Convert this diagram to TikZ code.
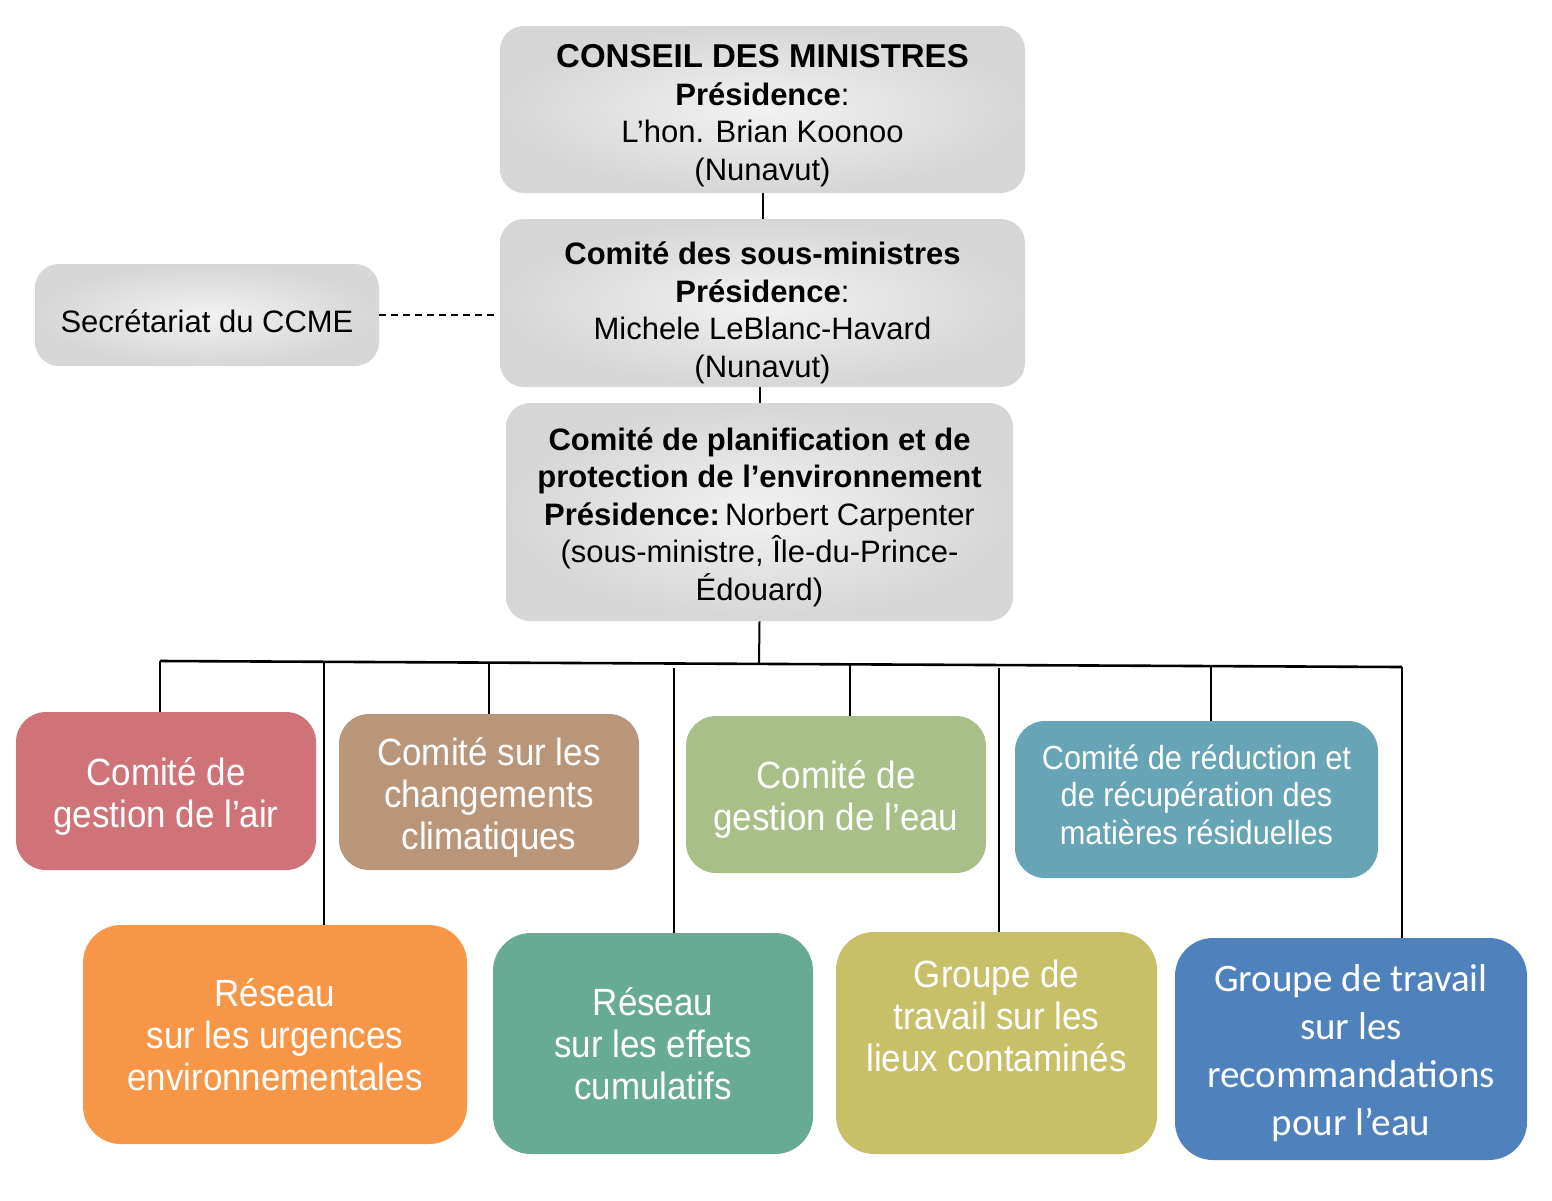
\documentclass[tikz,border=0pt]{standalone}
\usepackage{fontspec}
\setmainfont{Liberation Sans}
\newfontfamily\narrowf[FakeStretch=0.92]{Liberation Sans}
\newfontfamily\calib{Carlito}
\definecolor{cAir}{HTML}{CF7378}
\definecolor{cChg}{HTML}{B9967A}
\definecolor{cEau}{HTML}{A8BF87}
\definecolor{cMat}{HTML}{66A4B6}
\definecolor{cUrg}{HTML}{F79646}
\definecolor{cEff}{HTML}{67AB95}
\definecolor{cLieux}{HTML}{C7C068}
\definecolor{cRec}{HTML}{4F81BD}
\definecolor{gIn}{HTML}{F2F2F2}
\definecolor{gOut}{HTML}{D6D6D6}
\tikzset{
  graybox/.style={rounded corners=12pt, shade, inner color=gIn, outer color=gOut, inner sep=0pt},
  graytxt/.style={inner sep=0pt, align=center, text=black,
    font=\fontsize{15.5pt}{18.75pt}\selectfont},
  colbox/.style={rounded corners=15pt, fill=#1, inner sep=0pt},
  coltxt/.style={inner sep=0pt, align=center, text=white,
    font=\narrowf\fontsize{19pt}{21pt}\selectfont},
  conn/.style={line width=1pt, black},
  bus/.style={line width=1.3pt, black},
}
\begin{document}
\begin{tikzpicture}[x=0.5pt,y=-0.5pt]
\useasboundingbox (0,0) rectangle (1552,1200);
% gray boxes
\node[graybox, minimum width=262.5pt, minimum height=83.5pt] (conseil) at (762.5,109.5) {};
\node[graytxt] (conseil-t) at ([yshift=-3pt]conseil.center)
  {{\fontsize{16.5pt}{18.75pt}\selectfont\bfseries CONSEIL DES MINISTRES}\\ \textbf{Présidence}:\\ L’hon. Brian Koonoo\\ (Nunavut)};
\node[graybox, minimum width=262.5pt, minimum height=84pt] (sousmin) at (762.5,303) {};
\node[graytxt] (sousmin-t) at ([yshift=-5pt]sousmin.center)
  {\textbf{Comité des sous-ministres}\\ \textbf{Présidence}:\\ Michele LeBlanc-Havard\\ (Nunavut)};
\node[graybox, minimum width=172pt, minimum height=51pt] (secr) at (207,315) {};
\node[graytxt] (secr-t) at ([yshift=-3pt]secr.center) {Secrétariat du CCME};
\node[graybox, minimum width=253.5pt, minimum height=109pt] (plan) at (759.5,512) {};
\node[graytxt] (plan-t) at ([yshift=-2.5pt]plan.center)
  {\textbf{Comité de planification et de}\\ \textbf{protection de l’environnement}\\ \textbf{Présidence:}\,Norbert Carpenter\\ (sous-ministre, Île-du-Prince-\\ Édouard)};
% colored boxes, upper row
\node[colbox=cAir, minimum width=150pt, minimum height=79pt] (air) at (166,791) {};
\node[coltxt] (air-t) at ([yshift=-2.5pt]air.center) {Comité de\\ gestion de l’air};
\node[colbox=cChg, minimum width=150pt, minimum height=78pt] (chg) at (489,792) {};
\node[coltxt] (chg-t) at ([yshift=-2.5pt]chg.center) {Comité sur les\\ changements\\ climatiques};
\node[colbox=cEau, minimum width=150pt, minimum height=78.5pt] (eau) at (836,794.5) {};
\node[coltxt] (eau-t) at ([yshift=-2.5pt]eau.center) {Comité de\\ gestion de l’eau};
\node[colbox=cMat, minimum width=181.5pt, minimum height=78.5pt] (mat) at (1196.5,799.5) {};
\node[coltxt, font=\narrowf\fontsize{16.7pt}{18.75pt}\selectfont] (mat-t) at ([yshift=2.5pt]mat.center)
  {Comité de réduction et\\ de récupération des\\ matières résiduelles};
% colored boxes, lower row
\node[colbox=cUrg, rounded corners=19pt, minimum width=192pt, minimum height=109.5pt] (urg) at (275,1034.5) {};
\node[coltxt] (urg-t) at (urg.center) {Réseau\\ sur les urgences\\ environnementales};
\node[colbox=cEff, rounded corners=19pt, minimum width=160pt, minimum height=110.5pt] (eff) at (653,1043.5) {};
\node[coltxt] (eff-t) at (eff.center) {Réseau\\ sur les effets\\ cumulatifs};
\node[colbox=cLieux, rounded corners=19pt, minimum width=160.5pt, minimum height=111pt] (lieux) at (996.5,1043) {};
\node[coltxt] (lieux-t) at (996.5,1016) {Groupe de\\ travail sur les\\ lieux contaminés};
\node[colbox=cRec, rounded corners=19pt, minimum width=176pt, minimum height=111pt] (rec) at (1351,1049) {};
\node[coltxt, font=\calib\fontsize{19.5pt}{24pt}\selectfont] (rec-t) at ([yshift=-2pt]rec.center)
  {Groupe de travail\\ sur les\\ recommandations\\ pour l’eau};
% connectors
\draw[conn] (conseil.south) -- (sousmin.north);
\draw[conn] (plan.north) -- (plan.north |- sousmin.south);
\draw[conn, line width=0.8pt, dash pattern=on 3.5pt off 2.5pt] (secr.east) -- ++(116,0) coordinate (dashend);
\coordinate (busL) at (160,661);
\coordinate (busR) at (1402,667);
\coordinate (busM) at (759,664);
\draw[bus] (busL) -- (busR);
\draw[conn] (plan.south) -- (busM);
\coordinate (dAir) at (160,661);
\coordinate (dUrg) at (324,662);
\coordinate (dChg) at (489,663);
\coordinate (dEff) at (674,668);
\coordinate (dEau) at (850,665);
\coordinate (dLieux) at (999,668);
\coordinate (dMat) at (1211,666);
\coordinate (dRec) at (1402,667);
\draw[conn] (dAir) -- (dAir |- air.north);
\draw[conn] (dUrg) -- (dUrg |- urg.north);
\draw[conn] (dChg) -- (dChg |- chg.north);
\draw[conn] (dEff) -- (dEff |- eff.north);
\draw[conn] (dEau) -- (dEau |- eau.north);
\draw[conn] (dLieux) -- (dLieux |- lieux.north);
\draw[conn] (dMat) -- (dMat |- mat.north);
\draw[conn] (dRec) -- (dRec |- rec.north);
\end{tikzpicture}
\end{document}
